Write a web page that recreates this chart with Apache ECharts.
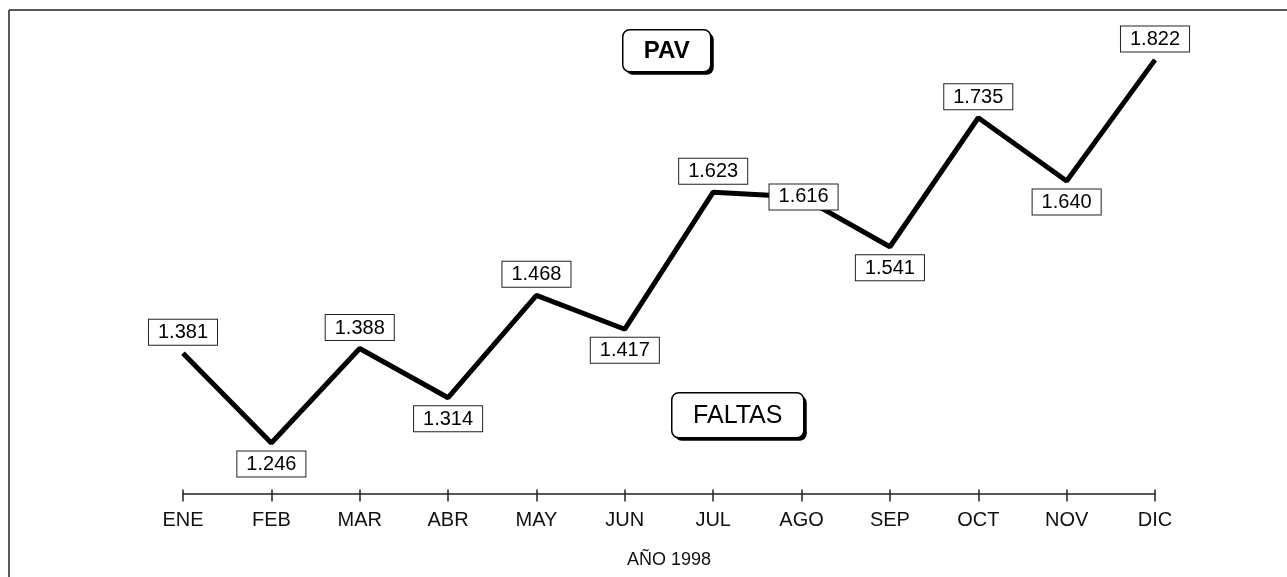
<!DOCTYPE html>
<html>
<head>
<meta charset="utf-8">
<script src="https://cdn.jsdelivr.net/npm/echarts@6/dist/echarts.min.js"></script>
<style>
  html, body { margin: 0; padding: 0; background: #fff; }
  #chart { width: 1287px; height: 577px; }
</style>
</head>
<body>
<div id="chart"></div>
<script>
// datos
const months = ['ENE', 'FEB', 'MAR', 'ABR', 'MAY', 'JUN', 'JUL', 'AGO', 'SEP', 'OCT', 'NOV', 'DIC']
const pavValues = [1.381, 1.246, 1.388, 1.314, 1.468, 1.417, 1.623, 1.616, 1.541, 1.735, 1.640, 1.822]
const labelSide = ['top', 'bottom', 'top', 'bottom', 'top', 'bottom', 'top', 'inside', 'bottom', 'top', 'bottom', 'top']

const font = '"Liberation Sans", Arial, Helvetica, sans-serif'
const chart = echarts.init(document.getElementById('chart'))

// caja con sombra (titulo PAV / FALTAS)
const shadowBox = (x, y, w, h, text, bold) => ({
  type: 'group',
  left: x,
  top: y,
  children: [
    { type: 'rect', shape: { x: 3, y: 3, width: w, height: h, r: 7 }, style: { fill: '#000' } },
    { type: 'rect', shape: { x: 0, y: 0, width: w, height: h, r: 7 }, style: { fill: '#fff', stroke: '#000', lineWidth: 1.5 } },
    {
      type: 'text', x: w / 2, y: h / 2 + 1,
      style: { text, fill: '#000', font: (bold ? 'bold 24px ' : '25px ') + font, align: 'center', verticalAlign: 'middle' }
    }
  ]
})

const option = {
  animation: false,
  grid: { left: 183, right: 132, top: 8, bottom: 83.5, containLabel: false },
  xAxis: [
    {
      type: 'category',
      boundaryGap: false,
      data: months,
      axisLine: { lineStyle: { color: '#222', width: 1.5 } },
      axisTick: { alignWithLabel: true, length: 8, lineStyle: { color: '#222', width: 1.5 } },
      axisLabel: { color: '#111', fontSize: 20, fontFamily: font, margin: 17 },
      name: 'AÑO 1998',
      nameLocation: 'middle',
      nameGap: 58,
      nameTextStyle: { color: '#111', fontSize: 18, fontFamily: font }
    },
    {
      type: 'category',
      boundaryGap: false,
      data: months,
      position: 'bottom',
      axisLine: { show: false },
      axisTick: { inside: true, length: 4, lineStyle: { color: '#222', width: 1.5 } },
      axisLabel: { show: false }
    }
  ],
  yAxis: {
    type: 'value',
    min: 1.17,
    max: 1.9,
    show: false
  },
  graphic: [
    { type: 'line', shape: { x1: 9, y1: 10, x2: 1287, y2: 10 }, style: { stroke: '#222', lineWidth: 1.5 } },
    { type: 'line', shape: { x1: 9, y1: 10, x2: 9, y2: 577 }, style: { stroke: '#222', lineWidth: 1.5 } },
    shadowBox(622, 29, 88, 42, 'PAV', true),
    shadowBox(671, 392, 132, 45, 'FALTAS', false)
  ],
  series: [
    {
      name: 'PAV',
      type: 'line',
      symbol: 'circle',
      symbolSize: 1,
      showSymbol: true,
      clip: false,
      itemStyle: { color: '#000' },
      lineStyle: { color: '#000', width: 5 },
      data: pavValues.map((v, i) => ({
        value: v,
        label: labelSide[i] === 'inside'
          ? { position: 'inside', offset: [2, 0] }
          : { position: labelSide[i] }
      })),
      label: {
        show: true,
        distance: 8,
        formatter: p => p.value.toFixed(3),
        color: '#000',
        fontSize: 20,
        fontFamily: font,
        backgroundColor: '#fff',
        borderColor: '#222',
        borderWidth: 1,
        padding: [3, 9, 2, 9]
      },
      z: 3
    }
  ]
}

chart.setOption(option)
window.addEventListener('resize', () => chart.resize())
</script>
</body>
</html>
